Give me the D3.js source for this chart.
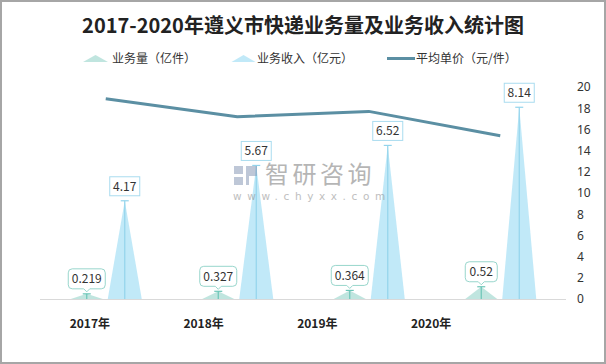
<!DOCTYPE html>
<html><head><meta charset="utf-8">
<script src="https://cdn.jsdelivr.net/npm/d3@7"></script>
<style>
html,body{margin:0;padding:0;background:#fff;}
svg{display:block;font-family:"Noto Sans CJK SC","Noto Sans",sans-serif;}
</style></head>
<body>
<svg id="c" width="606" height="364"></svg>
<script>
const years = ['2017年','2018年','2019年','2020年'];
const volume = [0.219, 0.327, 0.364, 0.52];      // 业务量（亿件）
const revenue = [4.17, 5.67, 6.52, 8.14];        // 业务收入（亿元）
const avgPrice = [18.9, 17.2, 17.7, 15.4];       // 平均单价（元/件）
const rightTicks = [0,2,4,6,8,10,12,14,16,18,20];
const seriesNames = ['业务量（亿件）','业务收入（亿元）','平均单价（元/件）'];
const title = '2017-2020年遵义市快递业务量及业务收入统计图';

(function(){
const svg = d3.select('#c');
svg.append('rect').attr('x',1).attr('y',1).attr('width',604).attr('height',362)
  .attr('fill','#fff').attr('stroke','#a6a6a6').attr('stroke-width',2);

const base = 299, yTop = 87;
const yR = d3.scaleLinear().domain([0,20]).range([base, yTop]);
const yL = d3.scaleLinear().domain([0,9]).range([base, yTop]);
const xBar = d3.scaleBand().domain(years).range([40,566]);
const xLab = d3.scaleBand().domain(years).range([33,488]);
const xSub = d3.scaleBand().domain(['vol','rev']).range([-38,38]);

const volFill = 'rgba(176,222,215,0.8)', volLine = '#6cc6b8', volBorder = '#98d6cc';
const revFill = 'rgba(178,228,246,0.8)', revLine = '#93d4ec', revBorder = '#a9dcef';
const lineColor = '#5b8fa3';

svg.append('text').attr('x',303).attr('y',33).attr('text-anchor','middle')
  .attr('font-size',20).attr('font-weight','bold').attr('fill','#222').text(title);

const lg = svg.append('g');
function tri(cx, w, yb, yt){
  return `M${cx-w/2},${yb}L${cx},${yt}L${cx+w/2},${yb}Z`;
}
lg.append('path').attr('d',tri(95.5,25,62,55)).attr('fill',volFill);
lg.append('text').attr('x',112).attr('y',62.5).attr('font-size',12).attr('fill','#333').text(seriesNames[0]);
lg.append('path').attr('d',tri(243.5,24,62,55)).attr('fill',revFill);
lg.append('text').attr('x',257).attr('y',62.5).attr('font-size',12).attr('fill','#333').text(seriesNames[1]);
lg.append('line').attr('x1',387).attr('x2',415).attr('y1',58.5).attr('y2',58.5)
  .attr('stroke',lineColor).attr('stroke-width',3);
lg.append('text').attr('x',416).attr('y',62.5).attr('font-size',12).attr('fill','#333').text(seriesNames[2]);

svg.append('line').attr('x1',40).attr('x2',566).attr('y1',base+0.5).attr('y2',base+0.5)
  .attr('stroke','#d9d9d9').attr('stroke-width',1);

const ax = d3.axisRight(yR).tickValues(rightTicks).tickSize(0).tickPadding(0);
const ag = svg.append('g').attr('transform','translate(577,0)').call(ax);
ag.select('.domain').remove();
ag.selectAll('text').attr('font-size',12).attr('fill','#333').attr('font-family','"Noto Sans","Noto Sans CJK SC",sans-serif');

svg.append('g').selectAll('text').data(years).join('text')
  .attr('x',d=>xLab(d)+xLab.bandwidth()/2).attr('y',328).attr('text-anchor','middle')
  .attr('font-size',12).attr('font-weight','bold').attr('fill','#222').text(d=>d);

const cx = (d,k)=> xBar(d)+xBar.bandwidth()/2+xSub(k)+xSub.bandwidth()/2;

const bars = svg.append('g');
years.forEach((d,i)=>{
  bars.append('path').attr('d',tri(cx(d,'vol'),32,base,yL(volume[i]))).attr('fill',volFill);
  bars.append('path').attr('d',tri(cx(d,'rev'),34,base,yL(revenue[i]))).attr('fill',revFill);
});

function pin(x, yv, color){
  bars.append('line').attr('x1',x).attr('x2',x).attr('y1',yv).attr('y2',base)
    .attr('stroke',color).attr('stroke-width',1.2);
  bars.append('line').attr('x1',x-4).attr('x2',x+4).attr('y1',yv).attr('y2',yv)
    .attr('stroke',color).attr('stroke-width',1.2);
}
years.forEach((d,i)=>{
  pin(cx(d,'vol'), yL(volume[i]), volLine);
  pin(cx(d,'rev'), yL(revenue[i]), revLine);
});

const line = d3.line().x((v,i)=>xBar(years[i])+xBar.bandwidth()/2).y(v=>yR(v));
svg.append('path').attr('d',line(avgPrice)).attr('fill','none')
  .attr('stroke',lineColor).attr('stroke-width',3).attr('stroke-linejoin','round');

const wm = svg.append('g').attr('opacity',0.55);
wm.append('rect').attr('x',234).attr('y',166).attr('width',9).attr('height',8).attr('fill','#8a9bb8');
wm.append('rect').attr('x',234).attr('y',177).attr('width',9).attr('height',8).attr('fill','#8a9bb8');
wm.append('path').attr('d','M246,166 L257,166 L257,176 L249,176 L249,185 L246,185 Z').attr('fill','#8a9bb8');
wm.append('text').attr('x',265).attr('y',183).attr('font-size',24).attr('fill','#7a7a7a')
  .attr('letter-spacing',3.5).text('智研咨询');
wm.append('text').attr('x',233).attr('y',200).attr('font-size',10.5).attr('fill','#8a8a8a')
  .attr('letter-spacing',5.6).attr('font-family','"DejaVu Sans",sans-serif').text('www.chyxx.com');

const lab = svg.append('g');
function revLabel(x, yv, txt){
  const w = 30, h = 19, b = yv-5;
  lab.append('rect').attr('x',x-w/2).attr('y',b-h).attr('width',w).attr('height',h)
    .attr('fill','#fff').attr('stroke',revBorder).attr('stroke-width',1);
  lab.append('text').attr('x',x).attr('y',b-5).attr('text-anchor','middle')
    .attr('font-size',12).attr('fill','#333').text(txt);
}
function volLabel(x, yv, txt){
  const w = txt.length>4 ? 37 : 32, h = 20, b = yv-5, r = 4, t = 3;
  const l = x-w/2, rr = x+w/2, tp = b-h;
  const p = `M${l+r},${tp}H${rr-r}Q${rr},${tp} ${rr},${tp+r}V${b-r}Q${rr},${b} ${rr-r},${b}`+
    `H${x+t}L${x},${b+t}L${x-t},${b}H${l+r}Q${l},${b} ${l},${b-r}V${tp+r}Q${l},${tp} ${l+r},${tp}Z`;
  lab.append('path').attr('d',p).attr('fill','#fff').attr('stroke',volBorder).attr('stroke-width',1);
  lab.append('text').attr('x',x).attr('y',b-5.5).attr('text-anchor','middle')
    .attr('font-size',12).attr('fill','#333').text(txt);
}
years.forEach((d,i)=>{
  volLabel(cx(d,'vol'), yL(volume[i]), String(volume[i]));
  revLabel(cx(d,'rev'), yL(revenue[i]), String(revenue[i]));
});
})();
</script>
</body></html>
